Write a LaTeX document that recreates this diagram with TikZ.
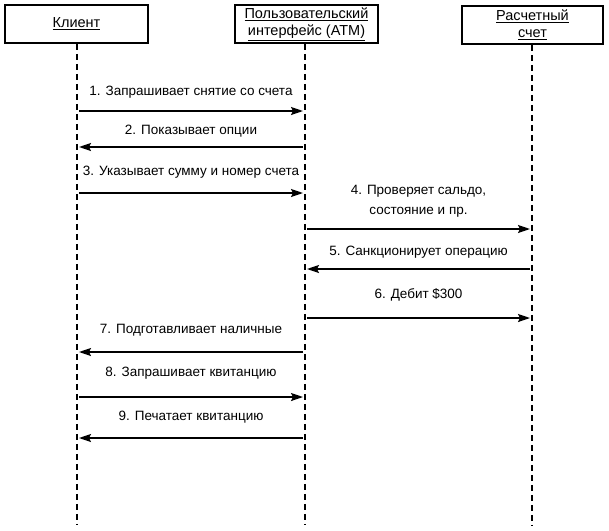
\documentclass[tikz,border=0pt]{standalone}
\usepackage{fontspec}
\setmainfont{Liberation Sans}
\usetikzlibrary{arrows.meta}
\begin{document}
\begin{tikzpicture}[x=1pt,y=-1pt,
  obj/.style={draw,line width=1.8pt,minimum height=38pt,inner sep=1pt,align=center,font=\fontsize{14.5}{17}\selectfont},
  life/.style={line width=1.2pt,dash pattern=on 6pt off 4pt},
  msg/.style={line width=1.8pt,-{Stealth[length=12pt,width=8pt,inset=2pt]}},
  lbl/.style={font=\fontsize{13.5}{20}\selectfont,align=center,inner sep=1pt}]
\useasboundingbox (0,0) rectangle (609,530);
% objects
\node[obj,minimum width=143pt] (k) at (76.5,24) {\underline{Клиент}};
\node[obj,minimum width=143pt] (u) at (306.5,24) {\underline{Пользовательский}\\\underline{интерфейс (АТМ)}};
\node[obj,minimum width=141pt] (s) at (532.5,25) {\underline{Расчетный}\\\underline{счет}};
% lifeline ends
\coordinate (kb) at (77,525);
\coordinate (ub) at (305,525);
\coordinate (sb) at (532,525);
\draw[life] (k.south -| kb) -- (kb);
\draw[life] (u.south -| ub) -- (ub);
\draw[life] (s.south -| sb) -- (sb);
% message endpoints
\coordinate (k1) at (79,111); \coordinate (u1) at (303,111);
\coordinate (k2) at (79,147); \coordinate (u2) at (303,147);
\coordinate (k3) at (79,193); \coordinate (u3) at (303,193);
\coordinate (u4) at (307,229); \coordinate (s4) at (530,229);
\coordinate (u5) at (307,269); \coordinate (s5) at (530,269);
\coordinate (u6) at (307,318); \coordinate (s6) at (530,318);
\coordinate (k7) at (79,352); \coordinate (u7) at (303,352);
\coordinate (k8) at (79,397); \coordinate (u8) at (303,397);
\coordinate (k9) at (79,438); \coordinate (u9) at (303,438);
% messages
\draw[msg] (k1) -- (u1) node[lbl,midway,above=11pt] (m1) {1. Запрашивает снятие со счета};
\draw[msg] (u2) -- (k2) node[lbl,midway,above=8pt] (m2) {2. Показывает опции};
\draw[msg] (k3) -- (u3) node[lbl,midway,above=13pt] (m3) {3. Указывает сумму и номер счета};
\draw[msg] (u4) -- (s4) node[lbl,midway,above=10pt] (m4) {4. Проверяет сальдо,\\состояние и пр.};
\draw[msg] (s5) -- (u5) node[lbl,midway,above=9pt] (m5) {5. Санкционирует операцию};
\draw[msg] (u6) -- (s6) node[lbl,midway,above=15pt] (m6) {6. Дебит \$300};
\draw[msg] (u7) -- (k7) node[lbl,midway,above=14pt] (m7) {7. Подготавливает наличные};
\draw[msg] (k8) -- (u8) node[lbl,midway,above=16pt] (m8) {8. Запрашивает квитанцию};
\draw[msg] (u9) -- (k9) node[lbl,midway,above=13pt] (m9) {9. Печатает квитанцию};
\end{tikzpicture}
\end{document}
